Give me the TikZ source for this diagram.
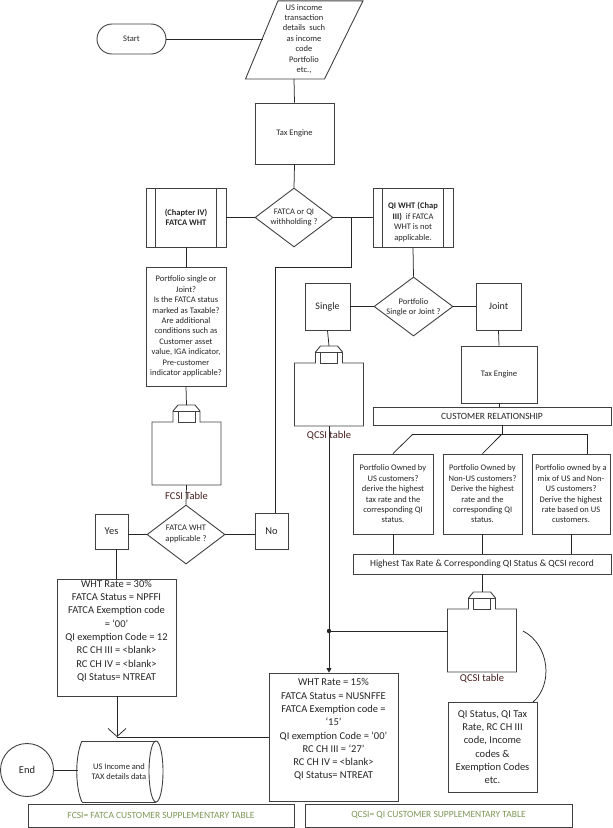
\documentclass[tikz,border=0pt]{standalone}
\usepackage{fontspec}
\setmainfont{Carlito}
\usetikzlibrary{shapes.geometric,arrows.meta}
\definecolor{ln}{RGB}{64,64,64}
\definecolor{lg}{RGB}{125,150,85}
\definecolor{tl}{RGB}{70,30,30}
\begin{document}
\begin{tikzpicture}[x=1pt,y=-1pt,
 box/.style={draw=ln,line width=0.9pt,inner sep=0pt,align=center,text=black!85,font=\fontsize{8.5}{10.4}\selectfont},
 big/.style={box,font=\fontsize{10.5}{13.3}\selectfont},
 txt/.style={inner sep=0pt,align=center,text=black!85,font=\fontsize{8.5}{10.4}\selectfont},
 bigtxt/.style={txt,font=\fontsize{10.5}{13.3}\selectfont},
 dia/.style={diamond,draw=ln,line width=0.9pt,inner sep=0pt,minimum width=78,minimum height=59},
 conn/.style={draw=black!85,line width=0.75pt},
 shp/.style={draw=ln,line width=0.9pt},
 tlabel/.style={inner sep=0pt,text=tl,font=\fontsize{10.5}{12}\selectfont},
 legendbox/.style={draw=ln,line width=0.9pt,minimum width=266,minimum height=23,inner sep=0pt,text=lg,font=\fontsize{9.5}{11}\selectfont},
 tbl/.pic={
  \draw[shp] (-34.5,63) -- (-34.5,0) -- (-13.5,0) -- (-13.5,-11) -- (-8.5,-17) -- (8.5,-17) -- (13.5,-11) -- (13.5,0) -- (34.5,0) -- (34.5,63) -- cycle;
  \draw[shp] (-13.5,-11) -- (13.5,-11) (-8.5,-11) rectangle (8.5,0);
  \coordinate (-top) at (0,-17);
  \coordinate (-bot) at (0,63);
  \coordinate (-west) at (-34.5,22);
 }
]
\useasboundingbox (0,0) rectangle (613,828);

% Start and input
\node[box,rounded corners=15pt,minimum width=69,minimum height=30] (start) at (131.5,39) {Start};
\draw[shp] (278,0.8) -- (363,0.8) -- (324.5,79) -- (245.5,79) -- cycle;
\coordinate (parL) at (262.5,39);
\coordinate (parB) at (294,79);
\node[txt] (partext) at (304,39) {US income\\transaction\\details\ \ such\\as income\\code\\Portfolio\\etc.,};

\node[box,minimum width=79,minimum height=61] (te1) at (294.5,133.5) {Tax Engine};

\node[dia] (d1) at (294,217.5) {};
\node[txt] (d1t) at (294,217.5) {FATCA or QI\\withholding ?};

\node[box,minimum width=80,minimum height=59] (c4) at (186,217.5) {\textbf{(Chapter IV)}\\\textbf{FATCA WHT}};
\draw[shp] ([xshift=10pt]c4.north west) -- ([xshift=10pt]c4.south west);
\draw[shp] ([xshift=-10pt]c4.north east) -- ([xshift=-10pt]c4.south east);

\node[box,minimum width=80,minimum height=59] (qiw) at (413,217.5) {};
\node[txt] (qiwt) at (413,222) {\textbf{QI WHT (Chap}\\\textbf{III)}\ \ if FATCA\\WHT is not\\applicable.};
\draw[shp] ([xshift=10pt]qiw.north west) -- ([xshift=10pt]qiw.south west);
\draw[shp] ([xshift=-10pt]qiw.north east) -- ([xshift=-10pt]qiw.south east);

% FATCA branch
\node[box,minimum width=80,minimum height=119] (pf) at (186,326.5) {Portfolio single or\\Joint?\\Is the FATCA status\\marked as Taxable?\\Are additional\\conditions such as\\Customer asset\\value, IGA indicator,\\Pre-customer\\indicator applicable?};
\pic (fcsi) at (186.5,422) {tbl};
\node[tlabel] (fcsil) at (186.5,496) {FCSI Table};

\node[dia] (d2) at (186,534.5) {};
\node[txt] (d2t) at (186,534) {FATCA WHT\\applicable ?};
\node[box,font=\fontsize{10.5}{12}\selectfont,minimum width=33,minimum height=35] (yes) at (111.5,531.5) {Yes};
\node[box,font=\fontsize{10.5}{12}\selectfont,minimum width=33,minimum height=36] (no) at (271.5,531) {No};

\node[box,minimum width=119,minimum height=117] (w30) at (116.5,637.5) {};
\node[bigtxt] (w30t) at (116.5,631) {WHT Rate = 30\%\\FATCA Status = NPFFI\\FATCA Exemption code\\= ‘00’\\QI exemption Code = 12\\RC CH III = <blank>\\RC CH IV = <blank>\\QI Status= NTREAT};

% storage and end
\node[txt] (store) at (119,771.5) {US Income and\\TAX details data};
\draw[shp] (82,741) -- (156,741) (82,802) -- (156,802);
\draw[shp] (82,741) .. controls (75,756) and (75,787) .. (82,802);
\draw[shp] (156,771.5) ellipse [x radius=7, y radius=30.5];
\coordinate (tip) at (117,737);
\coordinate (storeL) at (77.5,770);
\node[circle,draw=ln,line width=0.9pt,minimum size=53,inner sep=0pt,text=black!85,font=\fontsize{10.5}{12}\selectfont] (end) at (27,770) {End};

% QI branch
\node[dia,minimum width=79] (d3) at (413.5,306.5) {};
\node[txt] (d3t) at (413.5,307) {Portfolio\\Single or Joint ?};
\node[box,font=\fontsize{10}{12}\selectfont,minimum width=45,minimum height=47] (single) at (327.5,306.5) {Single};
\node[box,font=\fontsize{10}{12}\selectfont,minimum width=45,minimum height=47] (joint) at (498.5,306.5) {Joint};
\pic (qcsa) at (329,363) {tbl};
\node[tlabel] (qcsal) at (329,436) {QCSI table};

\node[box,minimum width=76,minimum height=57] (te2) at (499,374.5) {Tax Engine};
\node[box,font=\fontsize{9.5}{11}\selectfont,minimum width=238,minimum height=18] (cr) at (492,416) {CUSTOMER RELATIONSHIP};
\node[box,minimum width=80,minimum height=80] (b1) at (393,494) {Portfolio Owned by\\US customers?\\derive the highest\\tax rate and the\\corresponding QI\\status.};
\node[box,minimum width=79,minimum height=80] (b2) at (482.5,494) {Portfolio Owned by\\Non-US customers?\\Derive the highest\\rate and the\\corresponding QI\\status.};
\node[box,minimum width=78,minimum height=80] (b3) at (571,494) {Portfolio owned by a\\mix of US and Non-\\US customers?\\Derive the highest\\rate based on US\\customers.};
\node[box,font=\fontsize{9.5}{11}\selectfont,minimum width=258,minimum height=20] (hi) at (482,564) {Highest Tax Rate \& Corresponding QI Status \& QCSI record};
\pic (qcsb) at (482,609) {tbl};
\node[tlabel] (qcsbl) at (482,679) {QCSI table};

\node[box,minimum width=129,minimum height=128] (w15) at (333.5,737) {};
\node[bigtxt] (w15t) at (333.5,729.5) {WHT Rate = 15\%\\FATCA Status = NUSNFFE\\FATCA Exemption code =\\‘15’\\QI exemption Code = ‘00’\\RC CH III = ‘27’\\RC CH IV = <blank>\\QI Status= NTREAT};
\node[big,minimum width=89,minimum height=90] (qis) at (492.5,747) {QI Status, QI Tax\\Rate, RC CH III\\code, Income\\codes \&\\Exemption Codes\\etc.};

% legends
\node[legendbox] (lg1) at (161,815.5) {FCSI= FATCA CUSTOMER SUPPLEMENTARY TABLE};
\node[legendbox,minimum width=267] (lg2) at (438.5,815.5) {QCSI= QI CUSTOMER SUPPLEMENTARY TABLE};

% coordinates for connectors
\coordinate (j1) at (351,217.5);
\coordinate (k1) at (351,267);
\coordinate (noT) at (275,513);
\coordinate (dot) at (329,631);
\coordinate (br) at (502,434);
\coordinate (bL) at (413,434);
\coordinate (bR) at (587,434);
\coordinate (arcA) at (523,631);
\coordinate (arcB) at (533,702);

% connectors
\draw[conn] (start.east) -- (parL);
\draw[conn] (parB) -- (te1.north);
\draw[conn] (te1.south) -- (d1.north);
\draw[conn] (c4.east) -- (d1.west);
\draw[conn] (d1.east) -- (qiw.west);
\draw[conn] (j1) -- (k1) -| (noT);
\draw[conn] (c4.south) -- (pf.north);
\draw[conn] (pf.south) -- (fcsi-top);
\draw[conn] (fcsi-bot) -- (d2.north);
\draw[conn] (yes.east |- d2.west) -- (d2.west);
\draw[conn] (d2.east) -- (no.west |- d2.east);
\draw[conn] (w30.north |- yes.south) -- (w30.north);
\draw[conn,-{Straight Barb[length=8pt,width=18pt]}] (w30.south -| tip) -- (tip);
\draw[conn] (w15.west) -- (tip);
\draw[conn] (end.east) -- (storeL);
\draw[conn] (qiw.south) -- (d3.north);
\draw[conn] (single.east) -- (d3.west);
\draw[conn] (d3.east) -- (joint.west);
\draw[conn] (single.south) -- (qcsa-top);
\draw[conn] (qcsa-bot) -- (dot);
\draw[conn,-{Triangle[length=4.5pt,width=5pt]}] (dot) -- (w15.north -| dot);
\fill[black!85] (dot) circle (2.2pt);
\draw[conn] (qcsb-west) -- (dot);
\draw[conn] (joint.south) -- (te2.north);
\draw[conn] (te2.south) -- (te2.south |- cr.north);
\draw[conn] (br |- cr.south) -- (br);
\draw[conn] (bL) -- (bR);
\draw[conn] (bL) -- (b1.north);
\draw[conn] (br) -- (b2.north);
\draw[conn] (bR) -- (bR |- b3.north);
\draw[conn] (b1.south) -- (b1.south |- hi.north);
\draw[conn] (b2.south) -- (b2.south |- hi.north);
\draw[conn] (b3.south) -- (b3.south |- hi.north);
\draw[conn] (hi.south) -- (qcsb-top);
\draw[conn] (arcA) .. controls (550,645) and (553,685) .. (arcB);
\end{tikzpicture}
\end{document}
